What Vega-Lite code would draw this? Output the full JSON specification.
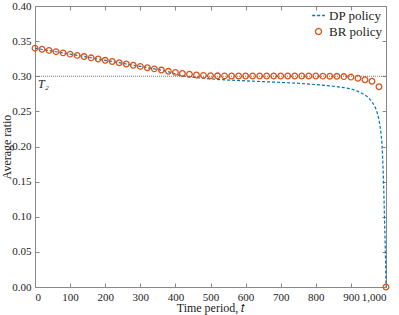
{
  "$schema": "https://vega.github.io/schema/vega-lite/v6.json",
  "width": 351,
  "height": 281,
  "autosize": {"type": "none"},
  "padding": {"left": 35, "top": 6, "right": 13, "bottom": 28},
  "background": "white",
  "config": {
    "font": "Liberation Serif",
    "view": {"stroke": "#888", "strokeWidth": 1},
    "axis": {
      "grid": false,
      "domainColor": "#888",
      "tickColor": "#888",
      "tickSize": -4,
      "labelPadding": 8,
      "labelFont": "Liberation Serif",
      "labelFontSize": 11,
      "labelColor": "#222",
      "titleFont": "Liberation Serif",
      "titleFontSize": 12,
      "titleFontWeight": "normal",
      "titleColor": "#222"
    },
    "legend": {"labelFont": "Liberation Serif", "labelFontSize": 13, "labelColor": "#222"},
    "text": {"font": "Liberation Serif"}
  },
  "datasets": {
    "dp": [
      {"t": 0, "v": 0.34, "series": "DP policy"},
      {"t": 100, "v": 0.3315, "series": "DP policy"},
      {"t": 200, "v": 0.3227, "series": "DP policy"},
      {"t": 300, "v": 0.314, "series": "DP policy"},
      {"t": 340, "v": 0.3105, "series": "DP policy"},
      {"t": 370, "v": 0.3076, "series": "DP policy"},
      {"t": 390, "v": 0.305, "series": "DP policy"},
      {"t": 410, "v": 0.3015, "series": "DP policy"},
      {"t": 430, "v": 0.2995, "series": "DP policy"},
      {"t": 460, "v": 0.298, "series": "DP policy"},
      {"t": 500, "v": 0.2962, "series": "DP policy"},
      {"t": 550, "v": 0.2946, "series": "DP policy"},
      {"t": 600, "v": 0.2935, "series": "DP policy"},
      {"t": 650, "v": 0.2923, "series": "DP policy"},
      {"t": 700, "v": 0.2912, "series": "DP policy"},
      {"t": 750, "v": 0.29, "series": "DP policy"},
      {"t": 800, "v": 0.2882, "series": "DP policy"},
      {"t": 850, "v": 0.2858, "series": "DP policy"},
      {"t": 880, "v": 0.2838, "series": "DP policy"},
      {"t": 900, "v": 0.2822, "series": "DP policy"},
      {"t": 920, "v": 0.2785, "series": "DP policy"},
      {"t": 940, "v": 0.2735, "series": "DP policy"},
      {"t": 950, "v": 0.2695, "series": "DP policy"},
      {"t": 960, "v": 0.264, "series": "DP policy"},
      {"t": 970, "v": 0.255, "series": "DP policy"},
      {"t": 975, "v": 0.248, "series": "DP policy"},
      {"t": 980, "v": 0.238, "series": "DP policy"},
      {"t": 985, "v": 0.222, "series": "DP policy"},
      {"t": 988, "v": 0.208, "series": "DP policy"},
      {"t": 990, "v": 0.19, "series": "DP policy"},
      {"t": 992, "v": 0.165, "series": "DP policy"},
      {"t": 994, "v": 0.132, "series": "DP policy"},
      {"t": 996, "v": 0.093, "series": "DP policy"},
      {"t": 998, "v": 0.054, "series": "DP policy"},
      {"t": 999, "v": 0.032, "series": "DP policy"},
      {"t": 1000, "v": 0.0, "series": "DP policy"}
    ],
    "br": [
      {"t": 0, "v": 0.34, "series": "BR policy"},
      {"t": 20, "v": 0.3385, "series": "BR policy"},
      {"t": 40, "v": 0.3368, "series": "BR policy"},
      {"t": 60, "v": 0.335, "series": "BR policy"},
      {"t": 80, "v": 0.3333, "series": "BR policy"},
      {"t": 100, "v": 0.3315, "series": "BR policy"},
      {"t": 120, "v": 0.3297, "series": "BR policy"},
      {"t": 140, "v": 0.328, "series": "BR policy"},
      {"t": 160, "v": 0.3262, "series": "BR policy"},
      {"t": 180, "v": 0.3245, "series": "BR policy"},
      {"t": 200, "v": 0.3227, "series": "BR policy"},
      {"t": 220, "v": 0.321, "series": "BR policy"},
      {"t": 240, "v": 0.3192, "series": "BR policy"},
      {"t": 260, "v": 0.3175, "series": "BR policy"},
      {"t": 280, "v": 0.3157, "series": "BR policy"},
      {"t": 300, "v": 0.314, "series": "BR policy"},
      {"t": 320, "v": 0.3122, "series": "BR policy"},
      {"t": 340, "v": 0.3105, "series": "BR policy"},
      {"t": 360, "v": 0.3088, "series": "BR policy"},
      {"t": 380, "v": 0.307, "series": "BR policy"},
      {"t": 400, "v": 0.3055, "series": "BR policy"},
      {"t": 420, "v": 0.304, "series": "BR policy"},
      {"t": 440, "v": 0.3028, "series": "BR policy"},
      {"t": 460, "v": 0.3018, "series": "BR policy"},
      {"t": 480, "v": 0.3012, "series": "BR policy"},
      {"t": 500, "v": 0.3008, "series": "BR policy"},
      {"t": 520, "v": 0.3006, "series": "BR policy"},
      {"t": 540, "v": 0.3005, "series": "BR policy"},
      {"t": 560, "v": 0.3004, "series": "BR policy"},
      {"t": 580, "v": 0.3004, "series": "BR policy"},
      {"t": 600, "v": 0.3004, "series": "BR policy"},
      {"t": 620, "v": 0.3004, "series": "BR policy"},
      {"t": 640, "v": 0.3004, "series": "BR policy"},
      {"t": 660, "v": 0.3004, "series": "BR policy"},
      {"t": 680, "v": 0.3004, "series": "BR policy"},
      {"t": 700, "v": 0.3004, "series": "BR policy"},
      {"t": 720, "v": 0.3004, "series": "BR policy"},
      {"t": 740, "v": 0.3004, "series": "BR policy"},
      {"t": 760, "v": 0.3003, "series": "BR policy"},
      {"t": 780, "v": 0.3003, "series": "BR policy"},
      {"t": 800, "v": 0.3003, "series": "BR policy"},
      {"t": 820, "v": 0.3002, "series": "BR policy"},
      {"t": 840, "v": 0.3001, "series": "BR policy"},
      {"t": 860, "v": 0.2999, "series": "BR policy"},
      {"t": 880, "v": 0.2995, "series": "BR policy"},
      {"t": 900, "v": 0.2988, "series": "BR policy"},
      {"t": 920, "v": 0.2972, "series": "BR policy"},
      {"t": 940, "v": 0.295, "series": "BR policy"},
      {"t": 960, "v": 0.293, "series": "BR policy"},
      {"t": 980, "v": 0.285, "series": "BR policy"},
      {"t": 1000, "v": 0.0, "series": "BR policy"}
    ]
  },
  "resolve": {"axis": {"x": "independent", "y": "independent"}},
  "layer": [
    {
      "data": {"values": [{"ref": 0.3}]},
      "mark": {"type": "rule", "color": "#777", "strokeWidth": 1, "strokeDash": [1, 1]},
      "encoding": {"y": {"field": "ref", "type": "quantitative", "axis": null}}
    },
    {
      "data": {"name": "dp"},
      "mark": {"type": "line", "strokeDash": [3, 2], "strokeWidth": 1.2},
      "encoding": {
        "x": {"field": "t", "type": "quantitative", "scale": {"domain": [0, 1000], "nice": false},
              "axis": {"values": [0,100,200,300,400,500,600,700,800,900,1000], "format": ",d", "title": "Time period, 𝑡", "titlePadding": 0, "domain": false, "labelFont": "Liberation Serif"}},
        "y": {"field": "v", "type": "quantitative", "scale": {"domain": [0, 0.4], "nice": false},
              "axis": {"values": [0,0.05,0.1,0.15,0.2,0.25,0.3,0.35,0.4], "format": ".2f", "title": "Average ratio", "titlePadding": -2, "domain": false, "labelFont": "Liberation Serif"}},
        "color": {"field": "series", "type": "nominal",
                  "scale": {"domain": ["DP policy", "BR policy"], "range": ["#0072BD", "#D95319"]},
                  "legend": {"title": null, "orient": "top-right", "offset": 3, "rowPadding": 2, "symbolStrokeWidth": 1.3,
                    "encode": {"symbols": {"update": {
                      "shape": {"signal": "datum.value === 'DP policy' ? 'stroke' : 'circle'"},
                      "size": {"signal": "datum.value === 'DP policy' ? 160 : 36"},
                      "strokeDash": {"signal": "datum.value === 'DP policy' ? [3, 2] : [1, 0]"},
                      "fill": {"value": "transparent"},
                      "stroke": {"signal": "datum.value === 'DP policy' ? '#0072BD' : '#D95319'"}
                    }}}}}
      }
    },
    {
      "data": {"name": "br"},
      "mark": {"type": "point", "shape": "circle", "filled": false, "size": 32, "strokeWidth": 1.3, "opacity": 1},
      "encoding": {
        "x": {"field": "t", "type": "quantitative",
              "axis": {"orient": "top", "values": [0,100,200,300,400,500,600,700,800,900,1000], "labels": false, "title": null, "domain": false}},
        "y": {"field": "v", "type": "quantitative",
              "axis": {"orient": "right", "values": [0,0.05,0.1,0.15,0.2,0.25,0.3,0.35,0.4], "labels": false, "title": null, "domain": false}},
        "color": {"field": "series", "type": "nominal"}
      }
    },
    {
      "data": {"values": [{"label": "T₂", "lt": 0, "lv": 0.3}]},
      "mark": {"type": "text", "align": "left", "baseline": "top", "dx": 3, "dy": 3, "fontSize": 12, "fontStyle": "italic", "color": "#222"},
      "encoding": {
        "x": {"field": "lt", "type": "quantitative", "axis": null},
        "y": {"field": "lv", "type": "quantitative", "axis": null},
        "text": {"field": "label"}
      }
    }
  ]
}
